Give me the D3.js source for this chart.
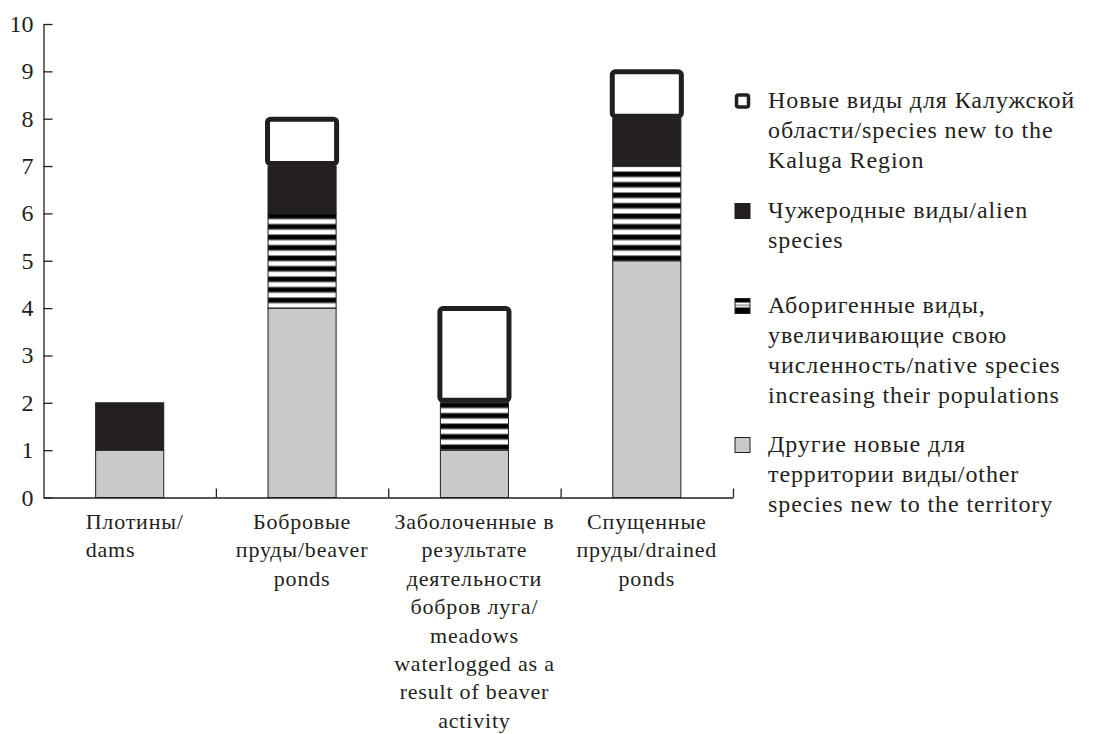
<!DOCTYPE html>
<html>
<head>
<meta charset="utf-8">
<script src="https://cdn.jsdelivr.net/npm/d3@7"></script>
</head>
<body style="margin:0">
<script>
// categories (each entry = wrapped label lines)
const categories = ['dams', 'beaver', 'meadows', 'drained'];
const categoryLines = [
  ['Плотины/', 'dams'],
  ['Бобровые', 'пруды/beaver', 'ponds'],
  ['Заболоченные в', 'результате', 'деятельности', 'бобров луга/', 'meadows', 'waterlogged as a', 'result of beaver', 'activity'],
  ['Спущенные', 'пруды/drained', 'ponds']
];

// series values, stacked bottom to top
const otherNew = [1, 4, 1, 5];
const nativeIncreasing = [0, 2, 1, 2];
const alien = [1, 1, 0, 1];
const newToRegion = [0, 1, 2, 1];

const yTicks = [0, 1, 2, 3, 4, 5, 6, 7, 8, 9, 10];

// legend, top to bottom
const seriesKeys = ['newToRegion', 'alien', 'nativeIncreasing', 'otherNew'];
const legendLines = [
  ['Новые виды для Калужской', 'области/species new to the', 'Kaluga Region'],
  ['Чужеродные виды/alien', 'species'],
  ['Аборигенные виды,', 'увеличивающие свою', 'численность/native species', 'increasing their populations'],
  ['Другие новые для', 'территории виды/other', 'species new to the territory']
];

const INK = '#231f20';
const GREY = '#c8c9cb';

const width = 1100, height = 734;
const plot = { left: 43.5, right: 733, top: 24, bottom: 497.5 };

const svg = d3.select('body').append('svg')
  .attr('width', width)
  .attr('height', height);

// one text line, serif face set on the element itself
function addText(parent, str, xPos, yPos, size, spacing, anchor) {
  const t = parent.append('text')
    .attr('x', xPos)
    .attr('y', yPos)
    .style('font-family', "'Liberation Serif'")
    .style('font-size', size + 'px')
    .attr('fill', INK)
    .attr('text-anchor', anchor)
    .text(str);
  if (spacing) t.attr('letter-spacing', spacing);
  t.node().getComputedTextLength();
  return t;
}

svg.append('rect').attr('width', width).attr('height', height).attr('fill', '#fff');

// striped fill for native species
const defs = svg.append('defs');
const stripe = defs.append('pattern')
  .attr('id', 'stripes')
  .attr('patternUnits', 'userSpaceOnUse')
  .attr('width', 20)
  .attr('height', 10.5)
  .attr('y', 213);
stripe.append('rect').attr('width', 20).attr('height', 10.5).attr('fill', '#fff');
stripe.append('rect').attr('y', 1).attr('width', 20).attr('height', 4.6).attr('fill', '#000');
stripe.append('rect').attr('y', 0).attr('width', 20).attr('height', 1).attr('fill', '#8c8c8c');
stripe.append('rect').attr('y', 5.6).attr('width', 20).attr('height', 1).attr('fill', '#8c8c8c');

const table = categories.map((c, i) => ({
  cat: c,
  otherNew: otherNew[i],
  nativeIncreasing: nativeIncreasing[i],
  alien: alien[i],
  newToRegion: newToRegion[i]
}));

const layers = d3.stack().keys(['otherNew', 'nativeIncreasing', 'alien', 'newToRegion'])(table);

const x = d3.scaleBand()
  .domain(categories)
  .range([plot.left, plot.right])
  .paddingInner(0.605)
  .paddingOuter(0.3025);

const xEdge = d3.scaleLinear()
  .domain([0, categories.length])
  .range([plot.left, plot.right]);

const y = d3.scaleLinear()
  .domain([0, 10])
  .range([plot.bottom, plot.top]);

const styles = {
  otherNew: { fill: GREY, sw: 1, rx: 0 },
  nativeIncreasing: { fill: 'url(#stripes)', sw: 1, rx: 0 },
  alien: { fill: INK, sw: 1, rx: 0 },
  newToRegion: { fill: '#fff', sw: 5, rx: 3 }
};

layers.forEach(layer => {
  const st = styles[layer.key];
  const thick = st.sw > 1;
  svg.append('g')
    .selectAll('rect')
    .data(layer.filter(d => d[1] > d[0]))
    .join('rect')
    .attr('x', d => x(d.data.cat) - (thick ? 0.5 : 0))
    .attr('y', d => y(d[1]) + (thick ? 0.5 : 0))
    .attr('width', x.bandwidth() + (thick ? 1 : 0))
    .attr('height', d => y(d[0]) - y(d[1]) - (thick ? 3 : 0))
    .attr('rx', st.rx)
    .attr('fill', st.fill)
    .attr('stroke', INK)
    .attr('stroke-width', st.sw);
});

// y axis, ticks pointing inward; labels drawn separately
const yAxis = svg.append('g')
  .attr('transform', `translate(${plot.left},0)`)
  .call(d3.axisLeft(y).tickValues(yTicks).tickSizeInner(-9).tickSizeOuter(0).tickFormat(''));
yAxis.selectAll('line, path').attr('stroke', INK).attr('stroke-width', 1.3);
const yLab = svg.append('g');
yTicks.forEach(v => addText(yLab, String(v), plot.left - 10, y(v) + 8, 24, 0, 'end'));

// x axis, ticks at the category boundaries
const xAxis = svg.append('g')
  .attr('transform', `translate(0,${plot.bottom})`)
  .call(d3.axisBottom(xEdge).tickValues(d3.range(1, categories.length + 1))
    .tickSizeInner(-9).tickSizeOuter(0).tickFormat(''));
xAxis.selectAll('line, path').attr('stroke', INK).attr('stroke-width', 1.3);

// category labels
const catG = svg.append('g');
categoryLines.forEach((lines, i) => {
  const cx = x(categories[i]) + x.bandwidth() / 2;
  const texts = lines.map((s, j) => addText(catG, s, cx, 529 + j * 28.4, 22, 0.8, i === 0 ? 'start' : 'middle'));
  if (i === 0) {
    // first label is a left-aligned block centred under its bar
    const w = d3.max(texts, t => t.node().getComputedTextLength());
    texts.forEach(t => t.attr('x', cx - w / 2 + 5));
  }
});

// legend
const legendTop = [108, 218, 313, 452];
const ls = defs.append('pattern')
  .attr('id', 'legendStripes')
  .attr('patternUnits', 'userSpaceOnUse')
  .attr('width', 15)
  .attr('height', 15)
  .attr('x', 735)
  .attr('y', legendTop[2] - 14.5);
ls.append('rect').attr('width', 15).attr('height', 15).attr('fill', '#fff');
ls.append('rect').attr('y', 0).attr('width', 15).attr('height', 4).attr('fill', '#000');
ls.append('rect').attr('y', 6).attr('width', 15).attr('height', 1.5).attr('fill', '#8c8c8c');
ls.append('rect').attr('y', 9).attr('width', 15).attr('height', 6).attr('fill', '#000');

const leg = svg.append('g');
seriesKeys.forEach((key, i) => {
  const hollow = key === 'newToRegion';
  leg.append('rect')
    .attr('x', hollow ? 736.5 : 735)
    .attr('y', legendTop[i] - 14.5 + (hollow ? 1.5 : 0))
    .attr('width', hollow ? 12 : 15)
    .attr('height', hollow ? 12 : 15)
    .attr('rx', hollow ? 2 : 0)
    .attr('fill', key === 'nativeIncreasing' ? 'url(#legendStripes)' : styles[key].fill)
    .attr('stroke', INK)
    .attr('stroke-width', hollow ? 3.5 : 1);
  legendLines[i].forEach((s, j) => addText(leg, s, 768, legendTop[i] + j * 30, 24, 0.9, 'start'));
});
</script>
</body>
</html>
